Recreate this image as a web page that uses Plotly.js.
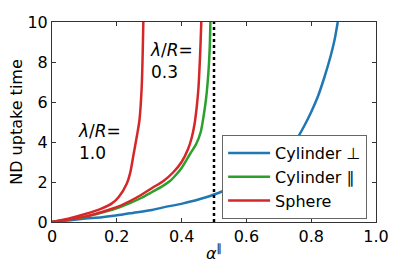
<!DOCTYPE html>
<html>
<head>
<meta charset="utf-8">
<script src="https://cdn.plot.ly/plotly-3.0.1.min.js"></script>
<style>html,body{margin:0;padding:0;background:#fff;}#chart{width:398px;height:270px;}</style>
</head>
<body>
<div id="chart"></div>
<script>
// Cylinder ⊥ (blue)
const cylPerpX = [0, 0.05, 0.103, 0.154, 0.206, 0.241, 0.309, 0.34, 0.405, 0.457, 0.488, 0.528, 0.6, 0.65, 0.7, 0.74, 0.76, 0.78, 0.8, 0.82, 0.84, 0.86, 0.872, 0.882];
const cylPerpY = [0, 0.08, 0.17, 0.24, 0.35, 0.44, 0.6, 0.72, 0.93, 1.15, 1.3, 1.55, 2.05, 2.5, 3.15, 3.8, 4.27, 4.85, 5.5, 6.25, 7.2, 8.3, 9.1, 10.0];
// Cylinder ∥ (green)
const cylParX = [0, 0.05, 0.103, 0.154, 0.206, 0.241, 0.275, 0.309, 0.34, 0.364, 0.385, 0.4, 0.426, 0.445, 0.459, 0.468, 0.475, 0.48, 0.484, 0.487, 0.489];
const cylParY = [0, 0.12, 0.26, 0.47, 0.72, 0.95, 1.2, 1.5, 1.78, 2.05, 2.4, 2.7, 3.4, 3.9, 4.5, 5.3, 6.1, 6.9, 7.8, 8.8, 10.1];
// Sphere, lambda/R = 0.3 (red)
const sph03X = [0, 0.05, 0.103, 0.154, 0.206, 0.241, 0.275, 0.309, 0.344, 0.375, 0.4, 0.42, 0.431, 0.44, 0.447, 0.452, 0.455, 0.458, 0.461];
const sph03Y = [0, 0.12, 0.27, 0.5, 0.78, 1.05, 1.35, 1.7, 2.05, 2.5, 3.0, 3.65, 4.2, 4.9, 5.8, 6.7, 7.6, 8.7, 10.1];
// Sphere, lambda/R = 1.0 (red)
const sph10X = [0, 0.05, 0.103, 0.154, 0.185, 0.206, 0.231, 0.241, 0.252, 0.262, 0.27, 0.277, 0.28, 0.282];
const sph10Y = [0, 0.17, 0.4, 0.68, 0.93, 1.25, 1.93, 2.43, 3.4, 4.3, 5.1, 6.8, 8.5, 10.1];
// Dotted reference line
const refX = [0.5, 0.5];
const refY = [0, 10];

const xTicks = [0, 0.2, 0.4, 0.6, 0.8, 1.0];
const xTickText = ["0", "0.2", "0.4", "0.6", "0.8", "1.0"];
const yTicks = [0, 2, 4, 6, 8, 10];
const yTickText = ["0", "2", "4", "6", "8", "10"];
const seriesNames = ["Cylinder \u22a5", "Cylinder \u2225", "Sphere"];

const FONT = "DejaVu Sans, sans-serif";
const FS = 16;
const lw = 2.5;
const traces = [
  {x: cylPerpX, y: cylPerpY, name: seriesNames[0], mode: "lines", line: {color: "#1f77b4", width: lw, shape: "spline", smoothing: 0.8}},
  {x: cylParX, y: cylParY, name: seriesNames[1], mode: "lines", line: {color: "#2ca02c", width: lw, shape: "spline", smoothing: 0.8}},
  {x: sph03X, y: sph03Y, name: seriesNames[2], legendgroup: "sph", mode: "lines", line: {color: "#d62728", width: lw, shape: "spline", smoothing: 0.8}},
  {x: sph10X, y: sph10Y, name: seriesNames[2], legendgroup: "sph", showlegend: false, mode: "lines", line: {color: "#d62728", width: lw, shape: "spline", smoothing: 0.8}},
  {x: refX, y: refY, showlegend: false, mode: "lines", line: {color: "#000", width: 2.5, dash: "dot"}}
];

const axisCommon = {
  showgrid: false, zeroline: false, showline: true, linecolor: "#333", linewidth: 1,
  ticks: "inside", ticklen: 4, tickcolor: "#333", mirror: "ticks",
  tickfont: {family: FONT, size: FS, color: "#000"}
};

const layout = {
  width: 398, height: 270,
  margin: {l: 52, r: 22, t: 22, b: 48},
  paper_bgcolor: "#fff", plot_bgcolor: "#fff",
  font: {family: FONT, size: FS, color: "#000"},
  xaxis: Object.assign({}, axisCommon, {
    range: [0, 1], tickmode: "array", tickvals: xTicks, ticktext: xTickText,
    title: {text: "<i>\u03b1</i><sup>\u2225</sup>", font: {family: FONT, size: FS}, standoff: 2}
  }),
  yaxis: Object.assign({}, axisCommon, {
    range: [0, 10], tickmode: "array", tickvals: yTicks, ticktext: yTickText,
    title: {text: "ND uptake time", font: {family: FONT, size: FS}, standoff: 0}
  }),
  showlegend: true,
  legend: {
    x: 0.525, y: 0.435, xanchor: "left", yanchor: "top",
    bgcolor: "#fff", bordercolor: "#666", borderwidth: 1,
    font: {family: FONT, size: FS, color: "#000"},
    itemwidth: 42, tracegroupgap: 0
  },
  annotations: [
    {xref: "x", yref: "y", x: 0.297, y: 9.2, xanchor: "left", yanchor: "top", align: "left", showarrow: false,
     text: "<i>\u03bb</i>/<i>R</i>=<br>0.3", font: {family: FONT, size: 17, color: "#000"}},
    {xref: "x", yref: "y", x: 0.075, y: 5.15, xanchor: "left", yanchor: "top", align: "left", showarrow: false,
     text: "<i>\u03bb</i>/<i>R</i>=<br>1.0", font: {family: FONT, size: 17, color: "#000"}}
  ]
};

Plotly.newPlot("chart", traces, layout, {displayModeBar: false, staticPlot: true});
</script>
</body>
</html>
